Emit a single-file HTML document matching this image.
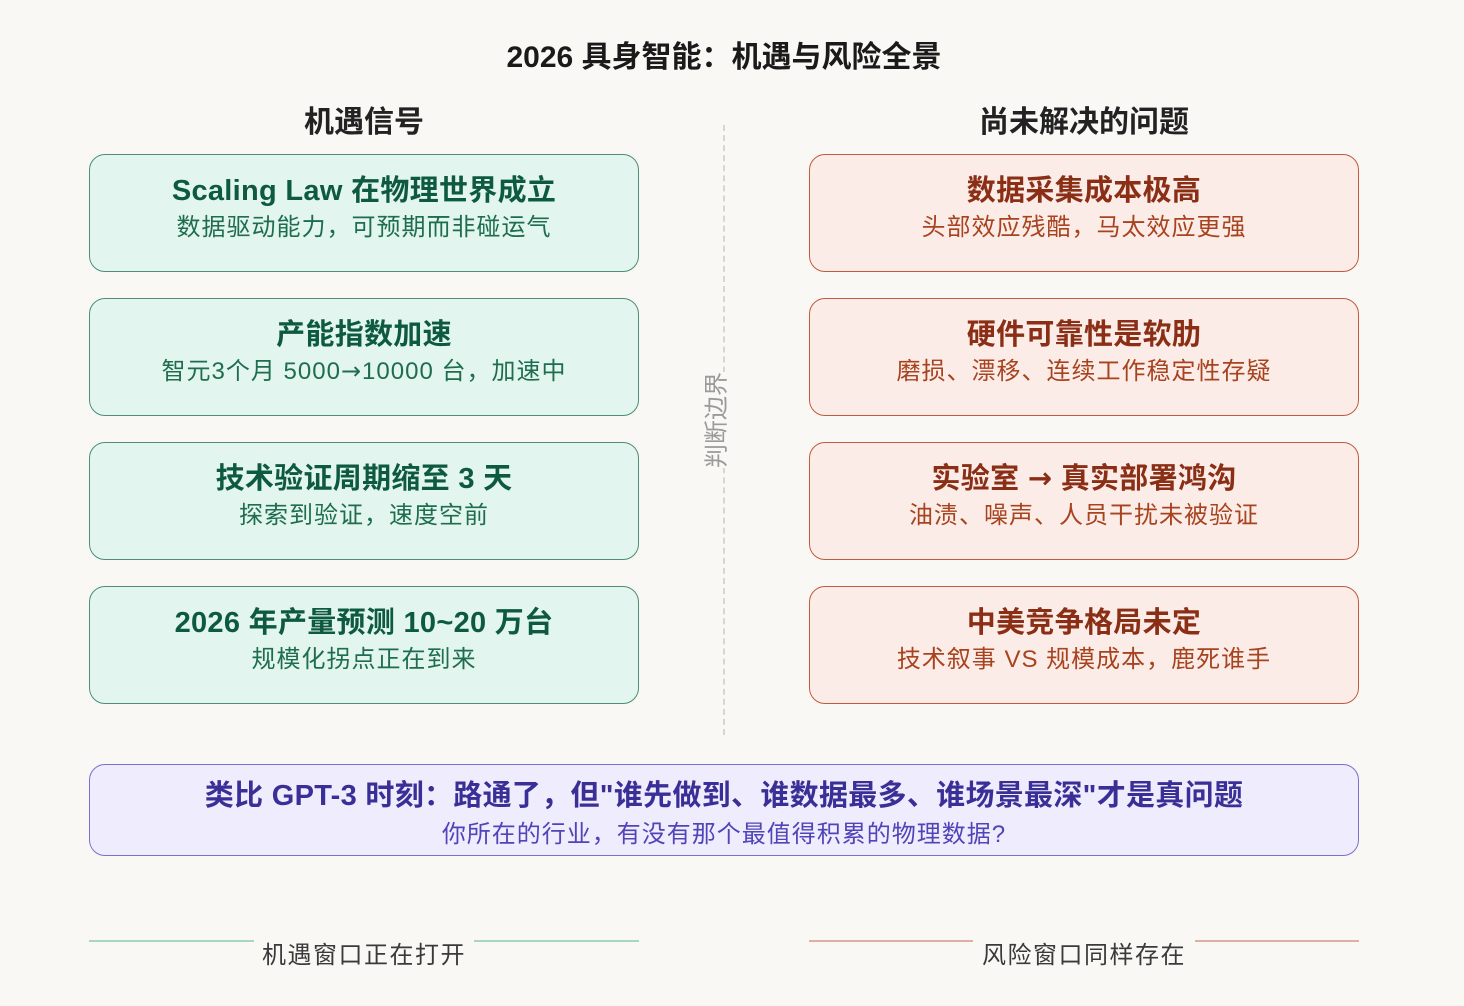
<!DOCTYPE html>
<html><head><meta charset="utf-8"><style>
*{margin:0;padding:0;box-sizing:border-box}
body{width:1464px;height:1006px;background:#faf8f5;position:relative;overflow:hidden;font-family:"Liberation Sans","Noto Sans CJK SC",sans-serif}
.a{position:absolute}
.t{position:absolute;white-space:nowrap;text-align:center}
.box{position:absolute;border-radius:16px;border:1.5px solid}
.g{background:#e2f5ee;border-color:#4f8d74}
.r{background:#fbece7;border-color:#c25a3e}
.p{background:#eeecfd;border-color:#7a70d0}
.h{font-size:29px;font-weight:bold;left:0;right:0;top:12px;letter-spacing:0.3px}
.s{font-size:24px;left:0;right:0;top:52px;letter-spacing:1px}
.g .h{color:#0e5a40}.g .s{color:#1f6d4f}
.r .h{color:#8a2e15}.r .s{color:#a8431f}
.ar{font-family:"DejaVu Sans",sans-serif}
</style></head><body>
<div class="t" style="left:0;width:1448px;top:32px;font-size:30px;font-weight:bold;color:#1a1a1a">2026 具身智能：机遇与风险全景</div>
<div class="t" style="left:89px;width:550px;top:97px;font-size:30px;font-weight:bold;color:#222">机遇信号</div>
<div class="t" style="left:809px;width:550px;top:97px;font-size:30px;font-weight:bold;color:#222">尚未解决的问题</div>
<div class="a" style="left:723px;top:125px;height:610px;border-left:2px dashed #d8d6d2"></div>
<div class="t" style="left:714px;top:420px;font-size:24px;color:#9a9a9a;background:#faf8f5;transform:translate(-50%,-50%) rotate(-90deg);padding:2px 0">判断边界</div>

<div class="box g" style="left:89px;top:154px;width:550px;height:118px"><div class="t h">Scaling Law 在物理世界成立</div><div class="t s">数据驱动能力，可预期而非碰运气</div></div>
<div class="box g" style="left:89px;top:298px;width:550px;height:118px"><div class="t h">产能指数加速</div><div class="t s">智元3个月 5000<span class="ar">→</span>10000 台，加速中</div></div>
<div class="box g" style="left:89px;top:442px;width:550px;height:118px"><div class="t h">技术验证周期缩至 3 天</div><div class="t s">探索到验证，速度空前</div></div>
<div class="box g" style="left:89px;top:586px;width:550px;height:118px"><div class="t h">2026 年产量预测 10~20 万台</div><div class="t s">规模化拐点正在到来</div></div>

<div class="box r" style="left:809px;top:154px;width:550px;height:118px"><div class="t h">数据采集成本极高</div><div class="t s">头部效应残酷，马太效应更强</div></div>
<div class="box r" style="left:809px;top:298px;width:550px;height:118px"><div class="t h">硬件可靠性是软肋</div><div class="t s">磨损、漂移、连续工作稳定性存疑</div></div>
<div class="box r" style="left:809px;top:442px;width:550px;height:118px"><div class="t h">实验室 <span class="ar">→</span> 真实部署鸿沟</div><div class="t s">油渍、噪声、人员干扰未被验证</div></div>
<div class="box r" style="left:809px;top:586px;width:550px;height:118px"><div class="t h">中美竞争格局未定</div><div class="t s">技术叙事 VS 规模成本，鹿死谁手</div></div>

<div class="box p" style="left:89px;top:764px;width:1270px;height:92px"><div class="t" style="left:0;right:0;top:7px;font-size:29px;font-weight:bold;color:#3a2f96;letter-spacing:0.3px">类比 GPT-3 时刻：路通了，但"谁先做到、谁数据最多、谁场景最深"才是真问题</div><div class="t" style="left:0;right:0;top:49px;font-size:24px;color:#5044b8;letter-spacing:1px">你所在的行业，有没有那个最值得积累的物理数据?</div></div>

<div class="a" style="left:89px;top:940px;width:165px;height:2px;background:#a8d6c4"></div>
<div class="a" style="left:474px;top:940px;width:165px;height:2px;background:#a8d6c4"></div>
<div class="t" style="left:89px;width:550px;top:935px;font-size:24px;letter-spacing:1.5px;color:#3a3a3a">机遇窗口正在打开</div>
<div class="a" style="left:809px;top:940px;width:164px;height:2px;background:#dfb0a2"></div>
<div class="a" style="left:1195px;top:940px;width:164px;height:2px;background:#dfb0a2"></div>
<div class="t" style="left:809px;width:550px;top:935px;font-size:24px;letter-spacing:1.5px;color:#3a3a3a">风险窗口同样存在</div>
</body></html>
